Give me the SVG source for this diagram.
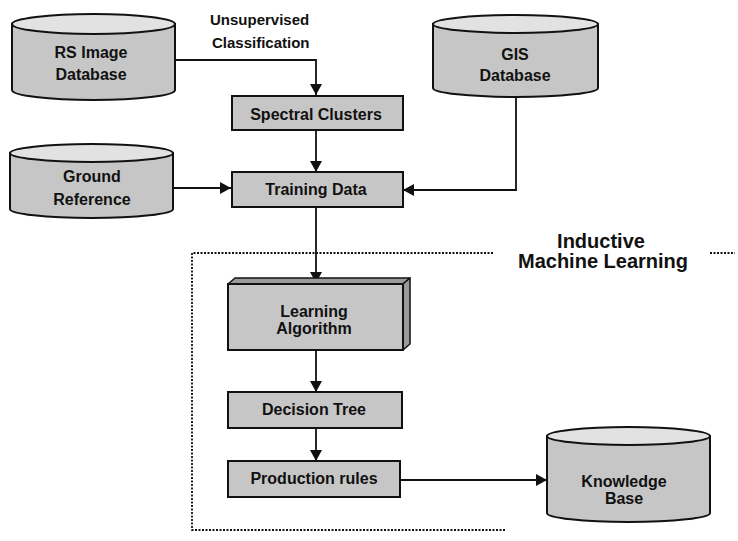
<svg xmlns="http://www.w3.org/2000/svg" width="738" height="541" viewBox="0 0 738 541">
<defs>
<marker id="arr" markerUnits="userSpaceOnUse" markerWidth="12" markerHeight="12" refX="11" refY="6" orient="auto">
<path d="M0,0 L11,6 L0,12 z" fill="#111"/>
</marker>
<style>
.body{fill:#c6c6c6;stroke:#111;stroke-width:2}
.top{fill:#e2e2e2;stroke:#111;stroke-width:2}
.box{fill:#c6c6c6;stroke:#111;stroke-width:2}
.side{fill:#9a9a9a;stroke:#111;stroke-width:1.5;stroke-linejoin:round}
.lbl{font-family:"Liberation Sans",Arial,sans-serif;font-weight:bold;font-size:16px;fill:#111;text-anchor:middle}
.cap{font-family:"Liberation Sans",Arial,sans-serif;font-weight:bold;font-size:15px;fill:#111}
.big{font-family:"Liberation Sans",Arial,sans-serif;font-weight:bold;font-size:20px;fill:#111;text-anchor:middle}
.con{fill:none;stroke:#111;stroke-width:1.8}
.dot{fill:none;stroke:#111;stroke-width:1.8;stroke-dasharray:2 1.5}
</style>
</defs>
<rect width="738" height="541" fill="#fff"/>

<g id="region">
<path class="dot" d="M493,253 H192 V530 H505"/>
<path class="dot" d="M710,253 H735"/>
<text class="big" x="601" y="248">Inductive</text>
<text class="big" x="603" y="268">Machine Learning</text>
</g>

<g id="connectors">
<path class="con" d="M175,60 H316 V95" marker-end="url(#arr)"/>
<path class="con" d="M316,130 V172" marker-end="url(#arr)"/>
<path class="con" d="M516,97 V190 H403" marker-end="url(#arr)"/>
<path class="con" d="M173,188 H231" marker-end="url(#arr)"/>
<path class="con" d="M316,207 V283" marker-end="url(#arr)"/>
<path class="con" d="M316,350 V392" marker-end="url(#arr)"/>
<path class="con" d="M316,428 V461" marker-end="url(#arr)"/>
<path class="con" d="M400,480 H547" marker-end="url(#arr)"/>
<text class="cap" x="210" y="25">Unsupervised</text>
<text class="cap" x="212" y="48">Classification</text>
</g>

<g id="rs-image-database">
<path class="body" d="M12,24 V90 A81.5,10 0 0 0 175,90 V24 Z"/>
<ellipse class="top" cx="93.5" cy="24" rx="81.5" ry="10"/>
<text class="lbl" x="91" y="58">RS Image</text>
<text class="lbl" x="91" y="80">Database</text>
</g>

<g id="gis-database">
<path class="body" d="M433,24 V88 A82.5,9 0 0 0 598,88 V24 Z"/>
<ellipse class="top" cx="515.5" cy="24" rx="82.5" ry="9"/>
<text class="lbl" x="515" y="60">GIS</text>
<text class="lbl" x="515" y="81">Database</text>
</g>

<g id="ground-reference">
<path class="body" d="M10,153 V209 A81.5,9 0 0 0 173,209 V153 Z"/>
<ellipse class="top" cx="91.5" cy="153" rx="81.5" ry="9"/>
<text class="lbl" x="92" y="182">Ground</text>
<text class="lbl" x="92" y="205">Reference</text>
</g>

<g id="spectral-clusters">
<rect class="box" x="232" y="96" width="171" height="34"/>
<text class="lbl" x="316" y="120">Spectral Clusters</text>
</g>

<g id="training-data">
<rect class="box" x="232" y="172" width="171" height="35"/>
<text class="lbl" x="316" y="195">Training Data</text>
</g>

<g id="learning-algorithm">
<polygon class="side" points="228,284 235,278 410,278 403,284"/>
<polygon class="side" points="403,284 410,278 410,344 403,350"/>
<rect class="box" x="228" y="284" width="175" height="66"/>
<text class="lbl" x="314" y="317">Learning</text>
<text class="lbl" x="314" y="334">Algorithm</text>
</g>

<g id="decision-tree">
<rect class="box" x="228" y="392" width="174" height="36"/>
<text class="lbl" x="314" y="415">Decision Tree</text>
</g>

<g id="production-rules">
<rect class="box" x="228" y="461" width="172" height="36"/>
<text class="lbl" x="314" y="484">Production rules</text>
</g>

<g id="knowledge-base">
<path class="body" d="M547,436 V513 A81.5,9 0 0 0 710,513 V436 Z"/>
<ellipse class="top" cx="628.5" cy="436" rx="81.5" ry="9"/>
<text class="lbl" x="624" y="487">Knowledge</text>
<text class="lbl" x="624" y="504">Base</text>
</g>
</svg>
